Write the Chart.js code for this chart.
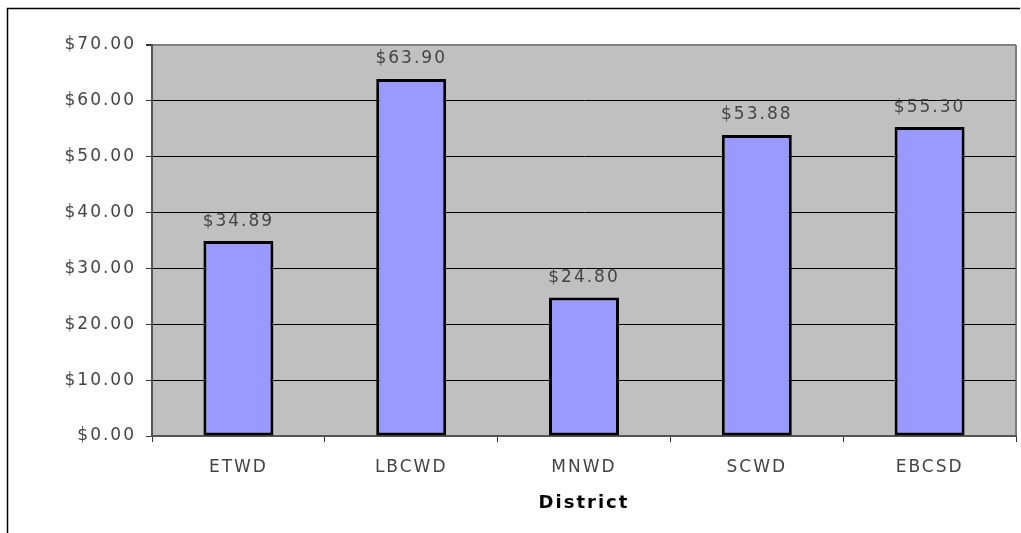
<!DOCTYPE html>
<html>
<head>
<meta charset="utf-8">
<script src="https://cdn.jsdelivr.net/npm/chart.js@4"></script>
<style>
  body { margin: 0; background: #fff; }
  canvas { display: block; }
</style>
</head>
<body>
<canvas id="districtChart" width="1021" height="533"></canvas>
<script>
const districts = ['ETWD', 'LBCWD', 'MNWD', 'SCWD', 'EBCSD'];
const rates = [34.89, 63.90, 24.80, 53.88, 55.30];
const yTicks = [0, 10, 20, 30, 40, 50, 60, 70];

const money = v => '$' + Number(v).toFixed(2);

// plot background, outer frame and letter spacing
const framePlugin = {
    id: 'frame',
    beforeDraw(chart) {
        const { ctx, chartArea: a } = chart;
        ctx.save();
        ctx.fillStyle = '#fff';
        ctx.fillRect(0, 0, chart.width, chart.height);
        ctx.fillStyle = '#c0c0c0';
        ctx.fillRect(a.left, a.top, a.right - a.left, a.bottom - a.top);
        ctx.strokeStyle = '#000';
        ctx.lineWidth = 1.5;
        ctx.beginPath();
        ctx.moveTo(7.5, chart.height);
        ctx.lineTo(7.5, 8.5);
        ctx.lineTo(1020, 8.5);
        ctx.stroke();
        ctx.strokeStyle = '#808080';
        ctx.lineWidth = 2;
        ctx.beginPath();
        ctx.moveTo(a.right, a.top);
        ctx.lineTo(a.right, a.bottom);
        ctx.stroke();
        ctx.restore();
        ctx.letterSpacing = '2px';
    },
    afterDatasetsDraw(chart) {
        const { ctx } = chart;
        const meta = chart.getDatasetMeta(0);
        ctx.save();
        ctx.letterSpacing = '2px';
        ctx.font = '17px "DejaVu Sans"';
        ctx.fillStyle = '#444';
        ctx.textAlign = 'center';
        ctx.textBaseline = 'middle';
        meta.data.forEach((bar, i) => {
            ctx.fillText(money(rates[i]), bar.x, bar.y - 20);
        });
        ctx.restore();
    }
};

const ctx = document.getElementById('districtChart').getContext('2d');
const districtChart = new Chart(ctx, {
    type: 'bar',
    data: {
        labels: districts,
        datasets: [{
            data: rates,
            backgroundColor: '#9999ff',
            borderColor: '#000',
            borderWidth: 3,
            borderSkipped: false,
            barPercentage: 0.405,
            categoryPercentage: 1
        }]
    },
    options: {
        responsive: false,
        animation: false,
        layout: { padding: { left: 0, top: 45, right: 5, bottom: 0 } },
        plugins: {
            legend: { display: false },
            tooltip: { enabled: false }
        },
        scales: {
            x: {
                afterFit: s => { s.height = 97; },
                grid: {
                    drawOnChartArea: false,
                    drawTicks: true,
                    tickLength: 6,
                    color: '#333'
                },
                border: { color: '#555', width: 2 },
                ticks: {
                    color: '#444',
                    padding: 15,
                    font: { family: 'DejaVu Sans', size: 17 }
                },
                title: {
                    display: true,
                    text: 'District',
                    color: '#000',
                    font: { family: 'DejaVu Sans', size: 18, weight: 'bold' },
                    padding: { top: 0, bottom: 19 }
                }
            },
            y: {
                min: 0,
                max: 70,
                afterFit: s => { s.width = 152; },
                afterBuildTicks: s => { s.ticks = yTicks.map(v => ({ value: v })); },
                grid: {
                    color: c => c.tick && c.tick.value === 70 ? '#808080' : '#000',
                    lineWidth: c => c.tick && c.tick.value === 70 ? 2 : 1,
                    tickColor: '#333',
                    tickLength: 6
                },
                border: { color: '#555', width: 2 },
                ticks: {
                    color: '#444',
                    padding: 10,
                    font: { family: 'DejaVu Sans', size: 17 },
                    callback: v => money(v)
                }
            }
        }
    },
    plugins: [framePlugin]
});
</script>
</body>
</html>
